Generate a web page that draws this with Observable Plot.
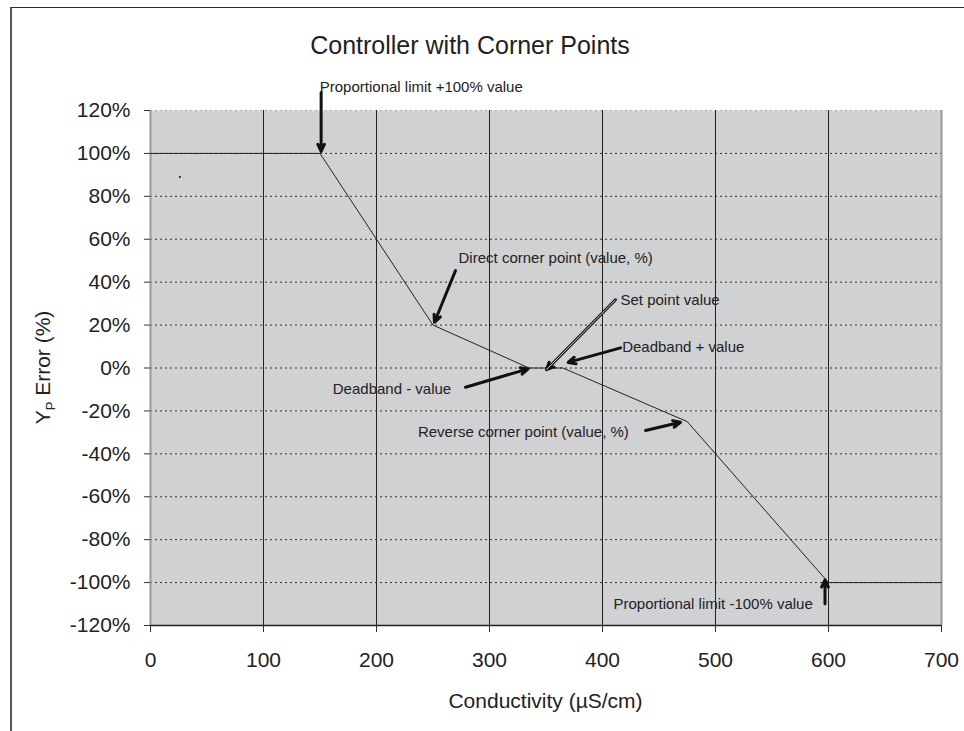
<!DOCTYPE html>
<html>
<head>
<meta charset="utf-8">
<script src="https://cdn.jsdelivr.net/npm/d3@7"></script>
<script src="https://cdn.jsdelivr.net/npm/@observablehq/plot@0.6"></script>
<style>
  html, body { margin: 0; padding: 0; background: #fff; }
  body { width: 964px; height: 731px; position: relative; overflow: hidden; font-family: "Liberation Sans", Arial, sans-serif; }
  #frame { position: absolute; left: 10px; top: 7px; width: 1000px; height: 800px; border-top: 1.5px solid #2a2a2a; border-left: 2px solid #555; }
  #title { position: absolute; left: 0; top: 30px; width: 940px; text-align: center; font-size: 25px; line-height: 30px; color: #222; }
  #chart { position: absolute; left: 0; top: 70px; }
</style>
</head>
<body>
<div id="frame"></div>
<div id="title">Controller with Corner Points</div>
<div id="chart"></div>
<script>
// ---- data ----
const conductivity = [0, 150, 250, 335, 365, 475, 600, 700];
const yError = [100, 100, 20, 0, 0, -25, -100, -100];

const xTicks = [0, 100, 200, 300, 400, 500, 600, 700];
const yTicks = [-120, -100, -80, -60, -40, -20, 0, 20, 40, 60, 80, 100, 120];

// stray dot in the source picture
const strayX = [26];
const strayY = [89];

// annotations (in data units)
const annLabels = [
  "Proportional limit +100% value",
  "Direct corner point (value, %)",
  "Set point value",
  "Deadband + value",
  "Deadband - value",
  "Reverse corner point (value, %)",
  "Proportional limit -100% value"
];
const annX = [149.8, 272.6, 415.9, 417.4, 266.1, 423.3, 586.1];
const annY = [130.9, 51.0, 31.8, 9.7, -10.0, -29.9, -109.9];
const annAnchor = ["start", "start", "start", "start", "end", "end", "end"];
const arrowX1 = [151, 269.9, 411.5, 416, 278.8, 438.1, 596.9];
const arrowY1 = [128.4, 45.4, 31.8, 9.4, -8.95, -29.1, -109.9];
const arrowX2 = [151, 251.3, 350.4, 369.6, 334.2, 469.0, 596.9];
const arrowY2 = [100.9, 21.3, -0.8, 2.6, -0.4, -25.3, -98.7];
const arrowHollow = [false, false, true, false, false, false, false];

// ---- tables ----
const series = conductivity.map((x, i) => ({x, y: yError[i]}));
const stray = strayX.map((x, i) => ({x, y: strayY[i]}));
const anns = annLabels.map((t, i) => ({text: t, x: annX[i], y: annY[i], anchor: annAnchor[i]}));
const arrows = arrowX1.map((x1, i) => ({x1, y1: arrowY1[i], x2: arrowX2[i], y2: arrowY2[i], hollow: arrowHollow[i]}));

const font = '"Liberation Sans", Arial, sans-serif';

const plot = Plot.plot({
  width: 964,
  height: 661,
  marginTop: 40,
  marginBottom: 106,
  marginLeft: 150,
  marginRight: 23,
  style: {fontFamily: font, fontSize: "21px", color: "#222", background: "transparent", overflow: "visible"},
  x: {domain: [0, 700], label: null},
  y: {domain: [-120, 120], label: null},
  marks: [
    Plot.frame({fill: "#d0d1d3", stroke: null}),
    Plot.ruleY(yTicks.filter(d => d > -120 && d < 120), {stroke: "#333", strokeWidth: 1, strokeDasharray: "2,3"}),
    Plot.ruleY([120], {stroke: "#aaa", strokeWidth: 1.2, strokeDasharray: "2,3"}),
    Plot.ruleX(xTicks.filter(d => d > 0 && d < 700), {stroke: "#222", strokeWidth: 1}),
    Plot.ruleX([0, 700], {stroke: "#999", strokeWidth: 2}),
    Plot.ruleY([-120], {stroke: "#222", strokeWidth: 1.5}),
    Plot.axisX({ticks: xTicks, tickSize: 7, tickPadding: 20, fontSize: 21, stroke: "#333", label: null}),
    Plot.axisY({ticks: yTicks, tickSize: 6, tickPadding: 14, fontSize: 21, stroke: "#333", tickFormat: d => d + "%", label: null}),
    Plot.line(series, {x: "x", y: "y", stroke: "#222", strokeWidth: 1}),
    Plot.dot(stray, {x: "x", y: "y", r: 1, fill: "#111", stroke: null}),
    Plot.arrow(arrows, {x1: "x1", y1: "y1", x2: "x2", y2: "y2", stroke: "#111", strokeWidth: 3, headLength: 4, headAngle: 50}),
    Plot.link(arrows.filter(d => d.hollow), {x1: "x1", y1: "y1", x2: "x2", y2: "y2", stroke: "#d0d1d3", strokeWidth: 1, insetEnd: 12}),
    Plot.text(anns.filter(d => d.anchor === "start"), {x: "x", y: "y", text: "text", textAnchor: "start", fontSize: 15, fill: "#222"}),
    Plot.text(anns.filter(d => d.anchor === "end"), {x: "x", y: "y", text: "text", textAnchor: "end", fontSize: 15, fill: "#222"})
  ]
});

document.getElementById("chart").appendChild(plot);

// axis titles, placed from the scales
const xs = plot.scale("x"), ys = plot.scale("y");
const svg = d3.select(plot);
const xMid = (xs.range[0] + xs.range[1]) / 2;
const yMid = (ys.range[0] + ys.range[1]) / 2;
const yBottom = Math.max(ys.range[0], ys.range[1]);

svg.append("text")
  .attr("x", xMid)
  .attr("y", yBottom + 76)
  .attr("dy", "0.35em")
  .attr("text-anchor", "middle")
  .attr("font-family", font)
  .attr("font-size", 21)
  .attr("fill", "#222")
  .text("Conductivity (µS/cm)");

const yl = svg.append("text")
  .attr("transform", `translate(${xs.range[0] - 107},${yMid}) rotate(-90)`)
  .attr("text-anchor", "middle")
  .attr("dy", "0.35em")
  .attr("font-family", font)
  .attr("font-size", 21)
  .attr("fill", "#222");
yl.append("tspan").text("Y");
yl.append("tspan").attr("font-size", 13).attr("dy", 5).text("P");
yl.append("tspan").attr("dy", -5).text(" Error (%)");
</script>
</body>
</html>
